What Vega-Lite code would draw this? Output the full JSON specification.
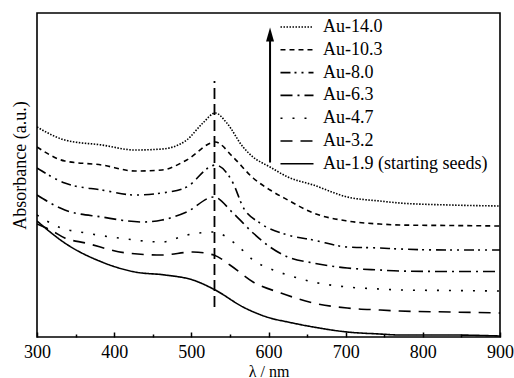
{
  "$schema": "https://vega.github.io/schema/vega-lite/v6.json",
  "width": 463,
  "height": 324,
  "autosize": {"type": "none"},
  "padding": {"left": 37, "top": 13, "right": 14, "bottom": 41},
  "background": "white",
  "config": {
    "view": {"stroke": "black", "strokeWidth": 1.6},
    "font": "Liberation Serif"
  },
  "resolve": {"axis": {"x": "independent"}},
  "layer": [
    {
      "data": {"values": [
        {"series": "Au-14.0", "nm": 300, "A": 2.10}, {"series": "Au-14.0", "nm": 336, "A": 1.97}, {"series": "Au-14.0", "nm": 384, "A": 1.92}, {"series": "Au-14.0", "nm": 427, "A": 1.87}, {"series": "Au-14.0", "nm": 462, "A": 1.88}, {"series": "Au-14.0", "nm": 494, "A": 1.97}, {"series": "Au-14.0", "nm": 515, "A": 2.14}, {"series": "Au-14.0", "nm": 531, "A": 2.24}, {"series": "Au-14.0", "nm": 546, "A": 2.14}, {"series": "Au-14.0", "nm": 567, "A": 1.90}, {"series": "Au-14.0", "nm": 580, "A": 1.80}, {"series": "Au-14.0", "nm": 602, "A": 1.70}, {"series": "Au-14.0", "nm": 625, "A": 1.60}, {"series": "Au-14.0", "nm": 658, "A": 1.52}, {"series": "Au-14.0", "nm": 702, "A": 1.40}, {"series": "Au-14.0", "nm": 744, "A": 1.36}, {"series": "Au-14.0", "nm": 770, "A": 1.34}, {"series": "Au-14.0", "nm": 835, "A": 1.32}, {"series": "Au-14.0", "nm": 900, "A": 1.31},
        {"series": "Au-10.3", "nm": 300, "A": 1.90}, {"series": "Au-10.3", "nm": 336, "A": 1.76}, {"series": "Au-10.3", "nm": 384, "A": 1.72}, {"series": "Au-10.3", "nm": 427, "A": 1.66}, {"series": "Au-10.3", "nm": 462, "A": 1.67}, {"series": "Au-10.3", "nm": 494, "A": 1.77}, {"series": "Au-10.3", "nm": 531, "A": 1.95}, {"series": "Au-10.3", "nm": 554, "A": 1.80}, {"series": "Au-10.3", "nm": 580, "A": 1.59}, {"series": "Au-10.3", "nm": 602, "A": 1.47}, {"series": "Au-10.3", "nm": 625, "A": 1.37}, {"series": "Au-10.3", "nm": 658, "A": 1.24}, {"series": "Au-10.3", "nm": 702, "A": 1.16}, {"series": "Au-10.3", "nm": 744, "A": 1.13}, {"series": "Au-10.3", "nm": 770, "A": 1.12}, {"series": "Au-10.3", "nm": 835, "A": 1.115}, {"series": "Au-10.3", "nm": 900, "A": 1.11},
        {"series": "Au-8.0", "nm": 300, "A": 1.69}, {"series": "Au-8.0", "nm": 336, "A": 1.54}, {"series": "Au-8.0", "nm": 384, "A": 1.47}, {"series": "Au-8.0", "nm": 427, "A": 1.42}, {"series": "Au-8.0", "nm": 462, "A": 1.44}, {"series": "Au-8.0", "nm": 494, "A": 1.50}, {"series": "Au-8.0", "nm": 524, "A": 1.70}, {"series": "Au-8.0", "nm": 531, "A": 1.72}, {"series": "Au-8.0", "nm": 554, "A": 1.54}, {"series": "Au-8.0", "nm": 567, "A": 1.30}, {"series": "Au-8.0", "nm": 589, "A": 1.14}, {"series": "Au-8.0", "nm": 625, "A": 1.02}, {"series": "Au-8.0", "nm": 658, "A": 0.97}, {"series": "Au-8.0", "nm": 702, "A": 0.90}, {"series": "Au-8.0", "nm": 744, "A": 0.89}, {"series": "Au-8.0", "nm": 770, "A": 0.88}, {"series": "Au-8.0", "nm": 835, "A": 0.87}, {"series": "Au-8.0", "nm": 900, "A": 0.87},
        {"series": "Au-6.3", "nm": 300, "A": 1.42}, {"series": "Au-6.3", "nm": 336, "A": 1.27}, {"series": "Au-6.3", "nm": 384, "A": 1.20}, {"series": "Au-6.3", "nm": 437, "A": 1.15}, {"series": "Au-6.3", "nm": 462, "A": 1.17}, {"series": "Au-6.3", "nm": 494, "A": 1.25}, {"series": "Au-6.3", "nm": 529, "A": 1.40}, {"series": "Au-6.3", "nm": 554, "A": 1.24}, {"series": "Au-6.3", "nm": 580, "A": 1.04}, {"series": "Au-6.3", "nm": 602, "A": 0.90}, {"series": "Au-6.3", "nm": 625, "A": 0.80}, {"series": "Au-6.3", "nm": 658, "A": 0.74}, {"series": "Au-6.3", "nm": 702, "A": 0.69}, {"series": "Au-6.3", "nm": 744, "A": 0.67}, {"series": "Au-6.3", "nm": 770, "A": 0.66}, {"series": "Au-6.3", "nm": 835, "A": 0.655}, {"series": "Au-6.3", "nm": 900, "A": 0.655},
        {"series": "Au-4.7", "nm": 300, "A": 1.22}, {"series": "Au-4.7", "nm": 328, "A": 1.10}, {"series": "Au-4.7", "nm": 363, "A": 1.04}, {"series": "Au-4.7", "nm": 406, "A": 0.99}, {"series": "Au-4.7", "nm": 462, "A": 0.95}, {"series": "Au-4.7", "nm": 494, "A": 1.02}, {"series": "Au-4.7", "nm": 529, "A": 1.05}, {"series": "Au-4.7", "nm": 559, "A": 0.92}, {"series": "Au-4.7", "nm": 580, "A": 0.77}, {"series": "Au-4.7", "nm": 606, "A": 0.67}, {"series": "Au-4.7", "nm": 625, "A": 0.62}, {"series": "Au-4.7", "nm": 658, "A": 0.55}, {"series": "Au-4.7", "nm": 702, "A": 0.50}, {"series": "Au-4.7", "nm": 744, "A": 0.48}, {"series": "Au-4.7", "nm": 770, "A": 0.47}, {"series": "Au-4.7", "nm": 835, "A": 0.465}, {"series": "Au-4.7", "nm": 900, "A": 0.46},
        {"series": "Au-3.2", "nm": 300, "A": 1.13}, {"series": "Au-3.2", "nm": 320, "A": 1.06}, {"series": "Au-3.2", "nm": 336, "A": 0.99}, {"series": "Au-3.2", "nm": 363, "A": 0.94}, {"series": "Au-3.2", "nm": 416, "A": 0.84}, {"series": "Au-3.2", "nm": 462, "A": 0.82}, {"series": "Au-3.2", "nm": 502, "A": 0.85}, {"series": "Au-3.2", "nm": 529, "A": 0.82}, {"series": "Au-3.2", "nm": 550, "A": 0.72}, {"series": "Au-3.2", "nm": 580, "A": 0.55}, {"series": "Au-3.2", "nm": 616, "A": 0.44}, {"series": "Au-3.2", "nm": 658, "A": 0.34}, {"series": "Au-3.2", "nm": 702, "A": 0.29}, {"series": "Au-3.2", "nm": 744, "A": 0.27}, {"series": "Au-3.2", "nm": 770, "A": 0.26}, {"series": "Au-3.2", "nm": 835, "A": 0.25}, {"series": "Au-3.2", "nm": 900, "A": 0.24},
        {"series": "Au-1.9 (starting seeds)", "nm": 300, "A": 1.16}, {"series": "Au-1.9 (starting seeds)", "nm": 336, "A": 0.94}, {"series": "Au-1.9 (starting seeds)", "nm": 384, "A": 0.75}, {"series": "Au-1.9 (starting seeds)", "nm": 427, "A": 0.65}, {"series": "Au-1.9 (starting seeds)", "nm": 466, "A": 0.62}, {"series": "Au-1.9 (starting seeds)", "nm": 502, "A": 0.57}, {"series": "Au-1.9 (starting seeds)", "nm": 531, "A": 0.47}, {"series": "Au-1.9 (starting seeds)", "nm": 567, "A": 0.30}, {"series": "Au-1.9 (starting seeds)", "nm": 602, "A": 0.19}, {"series": "Au-1.9 (starting seeds)", "nm": 625, "A": 0.15}, {"series": "Au-1.9 (starting seeds)", "nm": 658, "A": 0.10}, {"series": "Au-1.9 (starting seeds)", "nm": 702, "A": 0.05}, {"series": "Au-1.9 (starting seeds)", "nm": 744, "A": 0.03}, {"series": "Au-1.9 (starting seeds)", "nm": 770, "A": 0.02}, {"series": "Au-1.9 (starting seeds)", "nm": 835, "A": 0.02}, {"series": "Au-1.9 (starting seeds)", "nm": 900, "A": 0.01}
      ]},
      "mark": {"type": "line", "color": "black", "strokeWidth": 1.6, "interpolate": "monotone", "clip": true},
      "encoding": {
        "x": {"field": "nm", "type": "quantitative",
          "scale": {"domain": [300, 900], "nice": false},
          "axis": {
            "orient": "bottom",
            "title": "λ / nm",
            "values": [300, 400, 500, 600, 700, 800, 900],
            "tickSize": -5,
            "tickColor": "black", "tickWidth": 1.5,
            "domain": false, "grid": false,
            "labelFont": "Liberation Serif", "labelFontSize": 18, "labelColor": "black",
            "labelPadding": 11, "labelFlush": false,
            "titleFont": "Liberation Serif", "titleFontSize": 16, "titleFontWeight": "normal", "titleColor": "black",
            "titlePadding": 2
          }
        },
        "y": {"field": "A", "type": "quantitative",
          "scale": {"domain": [0, 3.24], "nice": false},
          "axis": {
            "title": "Absorbance (a.u.)",
            "labels": false, "ticks": false, "domain": false, "grid": false,
            "titleFont": "Liberation Serif", "titleFontSize": 18, "titleFontWeight": "normal", "titleColor": "black",
            "titlePadding": 8, "titleY": 152
          }
        },
        "detail": {"field": "series"},
        "strokeDash": {"field": "series", "type": "nominal",
          "scale": {
            "domain": ["Au-14.0", "Au-10.3", "Au-8.0", "Au-6.3", "Au-4.7", "Au-3.2", "Au-1.9 (starting seeds)"],
            "range": [[1.5, 1.5], [5, 4], [10, 4, 2, 5, 2, 5], [12, 5, 2, 5], [2, 10], [12, 8], [1, 0]]
          },
          "legend": {
            "title": null, "orient": "none", "legendX": 251, "legendY": 5,
            "symbolType": "M-2.54,0H2.54", "symbolSize": 169, "symbolStrokeWidth": 1.6, "symbolStrokeColor": "black",
            "labelFont": "Liberation Serif", "labelFontSize": 18, "labelColor": "black", "labelOffset": 17,
            "rowPadding": 4.8, "labelLimit": 300
          }
        }
      }
    },
    {
      "data": {"values": [{}]},
      "mark": {"type": "rule", "color": "black", "strokeWidth": 1.8, "strokeDash": [11, 5]},
      "encoding": {
        "x": {"datum": 530, "type": "quantitative",
          "axis": {"orient": "bottom", "title": null, "values": [350, 450, 550, 650, 750, 850], "labels": false, "tickSize": -3, "tickColor": "black", "tickWidth": 1.5, "domain": false, "grid": false}
        },
        "y": {"datum": 0.3}, "y2": {"datum": 2.56}
      }
    },
    {
      "data": {"values": [{}]},
      "mark": {"type": "rule", "color": "black", "strokeWidth": 2},
      "encoding": {"x": {"datum": 602, "type": "quantitative", "axis": null}, "y": {"datum": 1.745}, "y2": {"datum": 3.0}}
    },
    {
      "data": {"values": [{}]},
      "mark": {"type": "point", "shape": "M0,-1L0.57,1L-0.57,1Z", "size": 196, "filled": true, "color": "black", "opacity": 1},
      "encoding": {"x": {"datum": 602, "type": "quantitative", "axis": null}, "y": {"datum": 3.025}}
    }
  ]
}
